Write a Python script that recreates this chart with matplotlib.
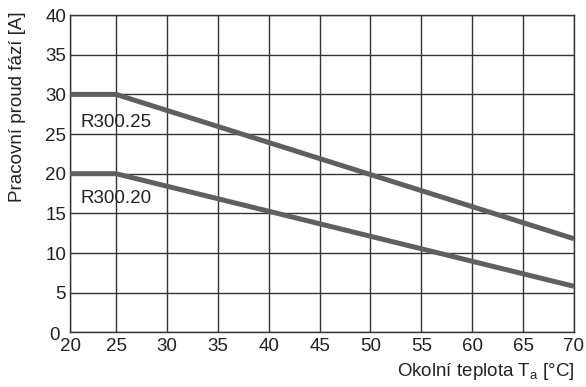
import numpy as np
import matplotlib
matplotlib.use("Agg")
import matplotlib.pyplot as plt
import matplotlib.transforms as mtransforms

plt.rcParams['font.family'] = ['Liberation Sans', 'DejaVu Sans']

# --- data ---
temp = [20.5, 25, 70]            # ambient temperature [°C]
r300_25 = [30, 30, 11.8]         # R300.25 current [A]
r300_20 = [20, 20, 5.8]          # R300.20 current [A]
xticks = [20.5, 25, 30, 35, 40, 45, 50, 55, 60, 65, 70]
xtick_labels = ['20', '25', '30', '35', '40', '45', '50', '55', '60', '65', '70']
yticks = [0, 5, 10, 15, 20, 25, 30, 35, 40]

fs = 13.5
txt_col = '#222222'
grid_col = '#333333'
line_col = '#5f5f5f'

fig = plt.figure(figsize=(5.86, 3.87), dpi=100)
ax = fig.add_axes([0.12, 0.1413, 0.8595, 0.8197])

ax.plot(temp, r300_25, color=line_col, linewidth=3.6, solid_capstyle='butt', zorder=3)
ax.plot(temp, r300_20, color=line_col, linewidth=3.6, solid_capstyle='butt', zorder=3)

ax.set_xlim(20.5, 70)
ax.set_ylim(0, 40)
ax.set_xticks(xticks)
ax.set_xticklabels(xtick_labels)
ax.set_yticks(yticks)
ax.grid(True, color=grid_col, linewidth=1.0)
for s in ax.spines.values():
    s.set_color(grid_col)
    s.set_linewidth(1.0)
ax.tick_params(length=0, labelsize=fs, colors=txt_col)
ax.tick_params(axis='y', pad=3)
ax.tick_params(axis='x', pad=4)

# the "0" sits a little left of the other y labels, clear of the "20"
zero_lbl = ax.get_yticklabels()[0]
zero_lbl.set_transform(zero_lbl.get_transform() +
                       mtransforms.ScaledTranslation(-6 / 100, -1 / 100, fig.dpi_scale_trans))

ax.text(21.5, 26.4, 'R300.25', fontsize=fs, va='center', ha='left', color=txt_col, zorder=4)
ax.text(21.5, 16.9, 'R300.20', fontsize=fs, va='center', ha='left', color=txt_col, zorder=4)

# axis titles sit off-centre in the original
fig.text(18 / 586, 1 - 11 / 387, 'Pracovní proud fází [A]', rotation=90,
         fontsize=fs, color=txt_col, ha='center', va='top')
fig.text(575 / 586, 1 - 372 / 387, 'Okolní teplota T$_\\mathregular{a}$ [°C]',
         fontsize=fs, color=txt_col, ha='right', va='center')

fig.savefig('out.png', dpi=100)
